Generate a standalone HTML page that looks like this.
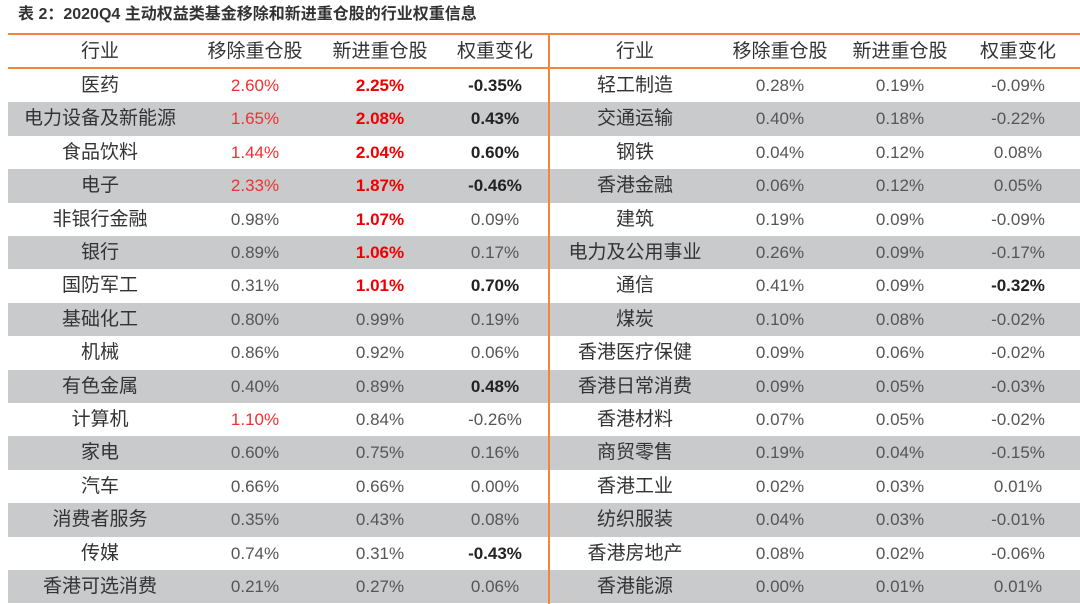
<!DOCTYPE html>
<html><head><meta charset="utf-8"><style>
body{margin:0;width:1080px;height:604px;background:#fff;overflow:hidden;font-family:"Liberation Sans","Noto Sans CJK SC",sans-serif;position:relative}
.c{position:absolute;text-align:center;white-space:nowrap;line-height:33px;font-size:17px}
.v{color:#555;font-size:17px}
.n{color:#333;font-size:19px}
.r{color:#f03030}
.b{font-weight:bold;color:#222}
.rb{font-weight:bold;color:#ee0000}
</style></head><body>
<div style="position:absolute;left:18px;top:4px;font-size:16px;font-weight:bold;color:#333;line-height:22px">表 2：2020Q4 主动权益类基金移除和新进重仓股的行业权重信息</div>
<div id="t"></div>
<script>
const leftNames=["医药","电力设备及新能源","食品饮料","电子","非银行金融","银行","国防军工","基础化工","机械","有色金属","计算机","家电","汽车","消费者服务","传媒","香港可选消费"];
const leftRemoved=["2.60%","1.65%","1.44%","2.33%","0.98%","0.89%","0.31%","0.80%","0.86%","0.40%","1.10%","0.60%","0.66%","0.35%","0.74%","0.21%"];
const leftAdded=["2.25%","2.08%","2.04%","1.87%","1.07%","1.06%","1.01%","0.99%","0.92%","0.89%","0.84%","0.75%","0.66%","0.43%","0.31%","0.27%"];
const leftChange=["-0.35%","0.43%","0.60%","-0.46%","0.09%","0.17%","0.70%","0.19%","0.06%","0.48%","-0.26%","0.16%","0.00%","0.08%","-0.43%","0.06%"];
const rightNames=["轻工制造","交通运输","钢铁","香港金融","建筑","电力及公用事业","通信","煤炭","香港医疗保健","香港日常消费","香港材料","商贸零售","香港工业","纺织服装","香港房地产","香港能源"];
const rightRemoved=["0.28%","0.40%","0.04%","0.06%","0.19%","0.26%","0.41%","0.10%","0.09%","0.09%","0.07%","0.19%","0.02%","0.04%","0.08%","0.00%"];
const rightAdded=["0.19%","0.18%","0.12%","0.12%","0.09%","0.09%","0.09%","0.08%","0.06%","0.05%","0.05%","0.04%","0.03%","0.03%","0.02%","0.01%"];
const rightChange=["-0.09%","-0.22%","0.08%","0.05%","-0.09%","-0.17%","-0.32%","-0.02%","-0.02%","-0.03%","-0.02%","-0.15%","0.01%","-0.01%","-0.06%","0.01%"];
const headers=["行业","移除重仓股","新进重仓股","权重变化"];
const t=document.getElementById('t');
const top0=69,rh=33.4;
const lx=[100,255,380,495],rx=[635,780,900,1018];
function cell(x,y,txt,cls,name){const d=document.createElement('div');


d.className='c '+cls;d.textContent=txt;d.style.left=(x-100)+'px';d.style.width='200px';d.style.top=y+'px';d.style.height=rh+'px';d.style.lineHeight=rh+'px';t.appendChild(d);}
function box(x,y,w,h,bg,name){const d=document.createElement('div');


d.style.cssText=`position:absolute;left:${x}px;top:${y}px;width:${w}px;height:${h}px;background:${bg}`;t.appendChild(d);}
for(let i=1;i<16;i+=2)box(8,top0+i*rh,1072,rh,'#c9cacc','row-band');
box(8,33,1072,2,'#f0873a','header-top-rule');
box(8,67,1072,2,'#f0873a','header-bottom-rule');
box(548,33,2,571,'#f0873a','center-divider');
headers.forEach((h,j)=>{cell(lx[j],35,h,'n','header-left');cell(rx[j],35,h,'n','header-right');});
const pct=s=>parseFloat(s);
for(let i=0;i<16;i++){const y=top0+i*rh;
cell(lx[0],y,leftNames[i],'n','industry-name');
cell(lx[1],y,leftRemoved[i],pct(leftRemoved[i])>=1.1?'v r':'v','removed-value');
cell(lx[2],y,leftAdded[i],pct(leftAdded[i])>=1.0?'v rb':'v','added-value');
cell(lx[3],y,leftChange[i],Math.abs(pct(leftChange[i]))>=0.3?'v b':'v','change-value');
cell(rx[0],y,rightNames[i],'n','industry-name');
cell(rx[1],y,rightRemoved[i],'v','removed-value');
cell(rx[2],y,rightAdded[i],'v','added-value');
cell(rx[3],y,rightChange[i],Math.abs(pct(rightChange[i]))>=0.3?'v b':'v','change-value');}
</script>
</body></html>
